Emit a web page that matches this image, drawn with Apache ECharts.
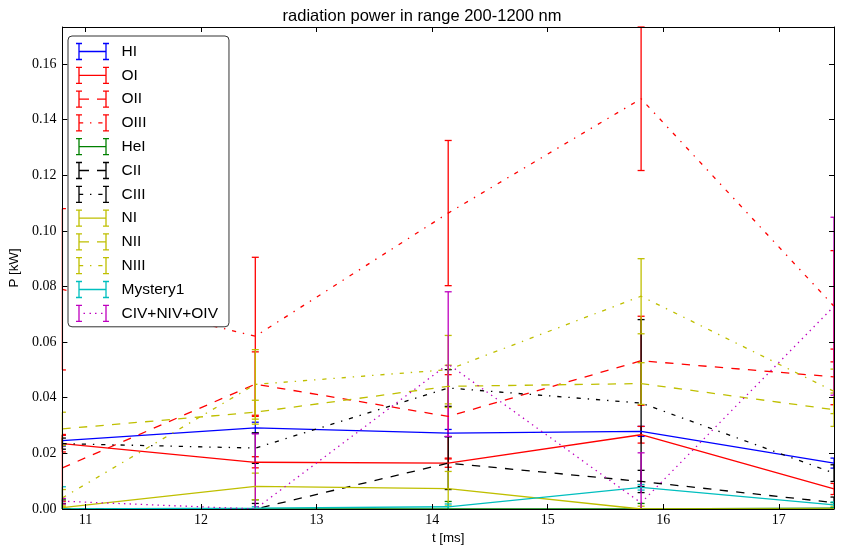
<!DOCTYPE html>
<html><head><meta charset="utf-8">
<script src="https://cdn.jsdelivr.net/npm/echarts@6/dist/echarts.min.js"></script>
<style>html,body{margin:0;padding:0;background:#fff}#c{width:844px;height:552px}</style>
</head><body><div id="c"></div>
<script>
// ---- data ----
const tValues = [10.8, 12.4695, 14.139, 15.8085, 17.478];
const seriesNames = ['HI','OI','OII','OIII','HeI','CII','CIII','NI','NII','NIII','Mystery1','CIV+NIV+OIV'];

const HI        = [0.0246, 0.0292, 0.0273, 0.0279, 0.0165];
const HI_err    = [0.0020, 0.0020, 0.0013, 0.0018, 0.0018];
const OI        = [0.0235, 0.0168, 0.0165, 0.0267, 0.0072];
const OI_err    = [0.0030, 0.0020, 0.0015, 0.0030, 0.0020];
const OII       = [0.0148, 0.0449, 0.0333, 0.0533, 0.0475];
const OII_err   = [0.0120, 0.0116, 0.0150, 0.0160, 0.0100];
const OIII      = [0.0790, 0.0621, 0.1064, 0.1475, 0.0729];
const OIII_err  = [0.0290, 0.0284, 0.0261, 0.0258, 0.0200];
const HeI       = [0.0000, 0.0000, 0.0000, 0.0000, 0.0003];
const HeI_err   = [0.0033, 0.0033, 0.0027, 0.0020, 0.0020];
const CII       = [0.0000, 0.0000, 0.0165, 0.0099, 0.0023];
const CII_err   = [0.0020, 0.0020, 0.0095, 0.0040, 0.0020];
const CIII      = [0.0235, 0.0219, 0.0435, 0.0381, 0.0129];
const CIII_err  = [0.0020, 0.0055, 0.0066, 0.0300, 0.0030];
const NI        = [0.0005, 0.0081, 0.0073, 0.0000, 0.0000];
const NI_err    = [0.0010, 0.0048, 0.0062, 0.0010, 0.0010];
const NII       = [0.0288, 0.0348, 0.0441, 0.0451, 0.0357];
const NII_err   = [0.0060, 0.0043, 0.0076, 0.0075, 0.0060];
const NIII      = [0.0040, 0.0448, 0.0501, 0.0765, 0.0423];
const NIII_err  = [0.0030, 0.0125, 0.0123, 0.0135, 0.0080];
const Mystery1     = [0.0000, 0.0003, 0.0008, 0.0078, 0.0015];
const Mystery1_err = [0.0080, 0.0005, 0.0010, 0.0010, 0.0010];
const CIVNIVOIV     = [0.0028, 0.0000, 0.0521, 0.0022, 0.0729];
const CIVNIVOIV_err = [0.0010, 0.0270, 0.0260, 0.0180, 0.0320];

const yTickLabels = ['0.00','0.02','0.04','0.06','0.08','0.10','0.12','0.14','0.16'];
const xTickLabels = ['11','12','13','14','15','16','17'];

// ---- styles ----
const COL = {b:'#0000ff', r:'#ff0000', g:'#008000', k:'#000000', y:'#bfbf00', c:'#00bfbf', m:'#bf00bf'};
const DASH = {solid:'solid', dashed:[8.3,8.3], dashdot:[4.2,6.9,1.4,6.9], dotted:[1.4,4.2]};
const MID = {
  solid:'M3,8.5 H30',
  dashed:'M3,8.5 H13 M21,8.5 H30',
  dashdot:'M3,8.5 H7.2 M14,8.5 H15.4 M22.3,8.5 H26.5',
  dotted:'M7.5,8.5 H9 M13.5,8.5 H15 M19,8.5 H20.5 M25,8.5 H26.5'
};
const BEAM = 'M3,0 V17 M0,0.5 H6 M0,16.5 H6 M30,0 V17 M27,0.5 H33 M27,16.5 H33 ';

const defs = [
  [HI, HI_err, COL.b, 'solid'],
  [OI, OI_err, COL.r, 'solid'],
  [OII, OII_err, COL.r, 'dashed'],
  [OIII, OIII_err, COL.r, 'dashdot'],
  [HeI, HeI_err, COL.g, 'solid'],
  [CII, CII_err, COL.k, 'dashed'],
  [CIII, CIII_err, COL.k, 'dashdot'],
  [NI, NI_err, COL.y, 'solid'],
  [NII, NII_err, COL.y, 'dashed'],
  [NIII, NIII_err, COL.y, 'dashdot'],
  [Mystery1, Mystery1_err, COL.c, 'solid'],
  [CIVNIVOIV, CIVNIVOIV_err, COL.m, 'dotted']
];

const LW = 1.3;
function errRender(color) {
  return function (params, api) {
    const x = api.value(0), lo = api.value(1), hi = api.value(2);
    const pLo = api.coord([x, lo]), pHi = api.coord([x, hi]);
    const cs = params.coordSys;
    const top = Math.max(pHi[1], cs.y), bot = Math.min(pLo[1], cs.y + cs.height);
    const xl = Math.max(pLo[0] - 3.5, cs.x), xr = Math.min(pLo[0] + 3.5, cs.x + cs.width);
    const st = {stroke: color, lineWidth: LW};
    const ch = [{type:'line', shape:{x1:pLo[0], y1:top, x2:pLo[0], y2:bot}, style:st}];
    if (pHi[1] >= cs.y) ch.push({type:'line', shape:{x1:xl, y1:pHi[1], x2:xr, y2:pHi[1]}, style:st});
    if (pLo[1] <= cs.y + cs.height) ch.push({type:'line', shape:{x1:xl, y1:pLo[1], x2:xr, y2:pLo[1]}, style:st});
    return {type:'group', children: ch};
  };
}

const series = [];
const legendData = [];
defs.forEach(function (d, i) {
  const name = seriesNames[i];
  const vals = d[0], errs = d[1], color = d[2], style = d[3];
  series.push({
    name: name, type: 'line', symbol: 'none', silent: true,
    data: tValues.map(function (t, j) { return [t, vals[j]]; }),
    lineStyle: {color: color, width: LW, type: DASH[style]},
    itemStyle: {color: color}
  });
  series.push({
    name: name + ' err', type: 'custom', silent: true,
    renderItem: errRender(color),
    encode: {x: 0, y: [1, 2]},
    data: tValues.map(function (t, j) { return [t, vals[j] - errs[j], vals[j] + errs[j]]; })
  });
  legendData.push({
    name: name,
    icon: 'path://' + BEAM + MID[style],
    itemStyle: {color: 'none', borderColor: color, borderWidth: LW}
  });
});

const chart = echarts.init(document.getElementById('c'), null, {renderer: 'canvas'});
const axisCommon = {
  z: 5,
  axisLine: {show: true, onZero: false, lineStyle: {color: '#000', width: 1}},
  axisTick: {show: true, inside: true, length: 5, lineStyle: {color: '#000'}},
  splitLine: {show: false}
};
chart.setOption({
  animation: false,
  backgroundColor: '#fff',
  title: {
    text: 'radiation power in range 200-1200 nm', left: 'center', top: 3,
    textStyle: {fontFamily: 'Liberation Sans', fontSize: 16.5, fontWeight: 'normal', color: '#000'}
  },
  grid: {left: 60, right: 10, top: 27, bottom: 43, containLabel: false},
  legend: {
    z: 10,
    data: legendData, orient: 'vertical', left: 68, top: 36,
    itemWidth: 33, itemHeight: 17, itemGap: 1.8,
    padding: [4.5, 11, 2.5, 5.5],
    backgroundColor: '#fff', borderColor: '#333', borderWidth: 1, borderRadius: 4,
    textStyle: {fontFamily: 'Liberation Sans', fontSize: 15.5, lineHeight: 17, color: '#000', padding: [0, 0, 0, 7.5]},
    selectedMode: false
  },
  xAxis: [
    Object.assign({
      type: 'value', min: 10.8, max: 17.478, position: 'bottom',
      name: 't [ms]', nameLocation: 'middle', nameGap: 18,
      nameTextStyle: {fontFamily: 'Liberation Sans', fontSize: 13.3, color: '#000'},
      axisLabel: {
        fontFamily: 'Liberation Serif', fontSize: 14, color: '#000', margin: 4,
        showMinLabel: false, showMaxLabel: false,
        formatter: function (v) { const s = String(Math.round(v)); return (Math.abs(v - Math.round(v)) < 1e-6 && xTickLabels.indexOf(s) >= 0) ? s : ''; }
      }
    }, axisCommon),
    Object.assign({
      type: 'value', min: 10.8, max: 17.478, position: 'top', axisLabel: {show: false}
    }, axisCommon)
  ],
  yAxis: [
    Object.assign({
      type: 'value', min: 0, max: 0.1733, interval: 0.02, position: 'left',
      name: 'P [kW]', nameLocation: 'middle', nameGap: 40, nameRotate: 90,
      nameTextStyle: {fontFamily: 'Liberation Sans', fontSize: 13.3, color: '#000'},
      axisLabel: {
        fontFamily: 'Liberation Serif', fontSize: 14, color: '#000', margin: 6,
        showMaxLabel: false,
        formatter: function (v) { const i = Math.round(v / 0.02); return (Math.abs(v - i * 0.02) < 1e-9 && yTickLabels[i]) ? yTickLabels[i] : ''; }
      }
    }, axisCommon),
    Object.assign({
      type: 'value', min: 0, max: 0.1733, interval: 0.02, position: 'right', axisLabel: {show: false}
    }, axisCommon)
  ],
  series: series
});
</script></body></html>
